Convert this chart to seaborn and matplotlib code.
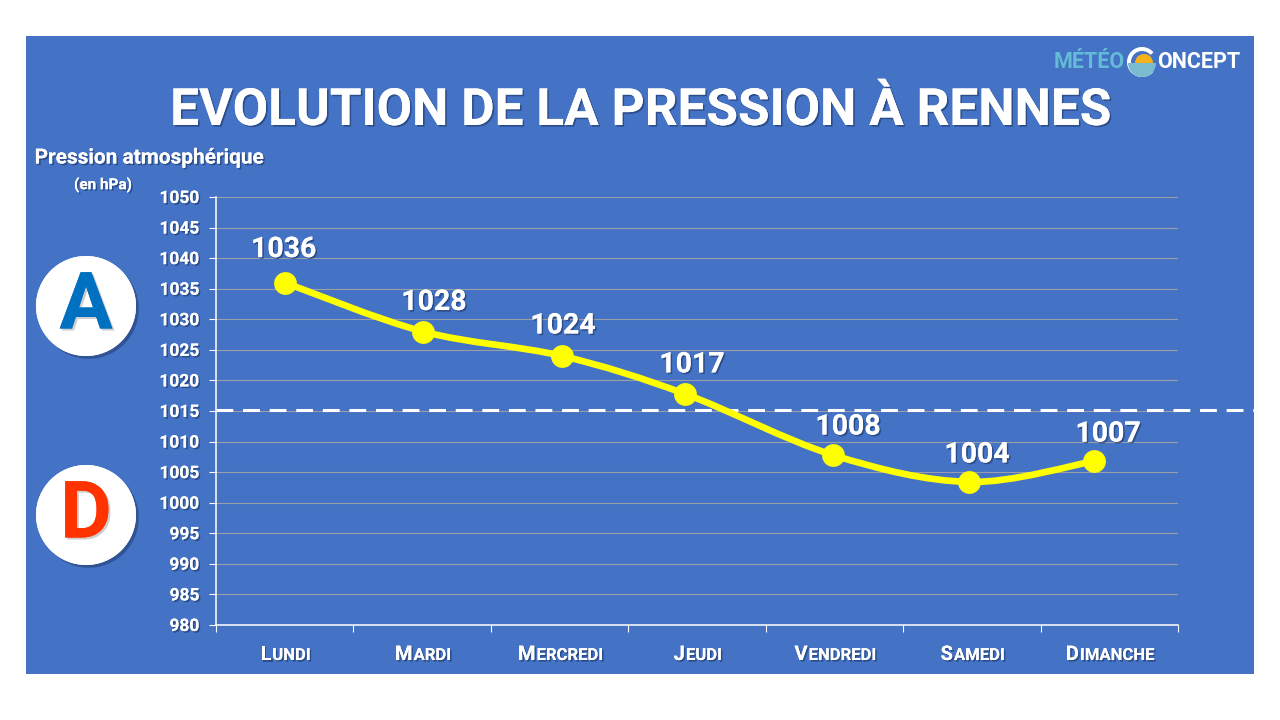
import numpy as np
import pandas as pd
import seaborn as sns
from matplotlib import pyplot as plt
from matplotlib import patheffects as pe
from matplotlib.patches import Circle, PathPatch, Rectangle, Wedge
from matplotlib.path import Path

days = ["Lundi", "Mardi", "Mercredi", "Jeudi", "Vendredi", "Samedi", "Dimanche"]
day_pos = [0, 1.006, 2.018, 2.913, 3.99, 4.98, 5.89]
pressure = [1036, 1028, 1024, 1017.8, 1007.8, 1003.4, 1006.8]
value_labels = ["1036", "1028", "1024", "1017", "1008", "1004", "1007"]
label_offsets = [(-1, 33), (11, 29), (1, 30), (7, 29), (15, 28), (8, 27), (14, 27)]
y_ticks = list(range(980, 1051, 5))

BLUE = "#4472C4"
YELLOW = "#FFFF00"

sns.set_theme(style="white")
plt.rcParams["font.family"] = ["Roboto", "DejaVu Sans"]
plt.rcParams["font.weight"] = "bold"

shadow = [pe.withSimplePatchShadow(offset=(1.2, -1.2), shadow_rgbFace="#1c3566", alpha=0.6), pe.Normal()]

fig = plt.figure(figsize=(12.8, 7.2), dpi=100, facecolor="white")

# fond en coordonnees pixels
bg = fig.add_axes([0, 0, 1, 1], zorder=0)
bg.set_xlim(0, 1280)
bg.set_ylim(720, 0)
bg.axis("off")
bg.add_patch(Rectangle((26, 36), 1228, 638, color=BLUE, lw=0))

bg.text(640, 125, "EVOLUTION DE LA PRESSION À RENNES", ha="center", va="baseline", fontsize=37,
        color="white", path_effects=shadow)
bg.text(150, 158, "Pression atmosphérique", ha="center", va="center", fontsize=15,
        color="white", path_effects=shadow)
bg.text(103, 185, "(en hPa)", ha="center", va="center", fontsize=11,
        color="white", path_effects=shadow)

# pastilles anticyclone / depression
for cy, letter, col in [(306, "A", "#0070C0"), (515, "D", "#FF3300")]:
    bg.add_patch(Circle((86, cy), 50, color="white", lw=0,
                        path_effects=[pe.withSimplePatchShadow(offset=(2, -2), shadow_rgbFace="#1c3566", alpha=0.5), pe.Normal()]))
    bg.text(86, cy + 1, letter, ha="center", va="center", fontsize=57, color=col,
            path_effects=[pe.withSimplePatchShadow(offset=(1.5, -1.5), shadow_rgbFace="#777777", alpha=0.35), pe.Normal()])

# logo
bg.text(1125, 68, "MÉTÉO", ha="right", va="baseline", fontsize=15.5, color="#63BBD6")
bg.text(1157, 68, "ONCEPT", ha="left", va="baseline", fontsize=15.5, color="white")
bg.add_patch(Wedge((1142, 62), 15, 40, 320, width=4, color="white", lw=0))
bg.add_patch(Wedge((1144, 63), 9, 180, 360, color="#F5B21B", lw=0))
bg.add_patch(Wedge((1142, 63), 14, 0, 180, color="#79BCD0", lw=0))

ax = fig.add_axes([216 / 1280, 95 / 720, 962 / 1280, 428 / 720], zorder=1)
ax.patch.set_alpha(0)

df = pd.DataFrame({"pos": day_pos, "pressure": pressure})

# courbe lissee (bezier passant par les points)
pts = df[["pos", "pressure"]].to_numpy()
verts = [pts[0]]
codes = [Path.MOVETO]
for i in range(len(pts) - 1):
    before = pts[max(i - 1, 0)]
    after = pts[min(i + 2, len(pts) - 1)]
    verts += [pts[i] + (pts[i + 1] - before) / 6, pts[i + 1] - (after - pts[i]) / 6, pts[i + 1]]
    codes += [Path.CURVE4, Path.CURVE4, Path.CURVE4]
ax.add_patch(PathPatch(Path(verts, codes), fill=False, edgecolor=YELLOW, lw=4.8, zorder=3, capstyle="round"))

sns.scatterplot(data=df, x="pos", y="pressure", ax=ax, color=YELLOW, s=270, linewidth=0, zorder=4, clip_on=False)

ax.set_xlim(-0.5, 6.5)
ax.set_ylim(980, 1050)
ax.set_xlabel("")
ax.set_ylabel("")
ax.set_yticks(y_ticks)
ax.set_yticklabels([str(v) for v in y_ticks], fontsize=12.5, color="white", path_effects=shadow)
ax.set_xticks(np.arange(-0.5, 7))
ax.set_xticklabels([])
ax.tick_params(axis="y", length=5, width=0.8, color="white", pad=7, left=True)
ax.tick_params(axis="x", length=5, width=0.8, color="white", bottom=True)
ax.grid(axis="y", color="#9a9ea8", lw=0.8)
ax.set_axisbelow(True)
sns.despine(ax=ax, top=True, right=True)
for side in ["left", "bottom"]:
    ax.spines[side].set_color("white")
    ax.spines[side].set_linewidth(1.1)

# seuil 1015 hPa, deborde jusqu'au bord du cadre
ax.axhline(1015.2, xmin=0, xmax=(1254 - 216) / 962, color="white", lw=2.2, dashes=(5.5, 3.2), clip_on=False, zorder=2)

for x, y, txt, (dx, dy) in zip(day_pos, pressure, value_labels, label_offsets):
    ax.annotate(txt, (x, y), xytext=(dx * 0.72, dy * 0.72), textcoords="offset points", ha="center", va="center",
                fontsize=20.5, color="white", zorder=5, path_effects=shadow)

# jours en petites capitales
fig.canvas.draw()
rend = fig.canvas.get_renderer()
for i, day in enumerate(days):
    cx = 285 + i * 137.43
    first = bg.text(cx, 660, day[0].upper(), ha="left", va="baseline", fontsize=14.5, color="white", path_effects=shadow)
    rest = bg.text(cx, 660, day[1:].upper(), ha="left", va="baseline", fontsize=12, color="white", path_effects=shadow)
    w1 = first.get_window_extent(rend).width
    w2 = rest.get_window_extent(rend).width
    first.set_x(cx - (w1 + w2) / 2)
    rest.set_x(cx - (w1 + w2) / 2 + w1 + 1)

fig.savefig("out.png", dpi=100, facecolor="white")
